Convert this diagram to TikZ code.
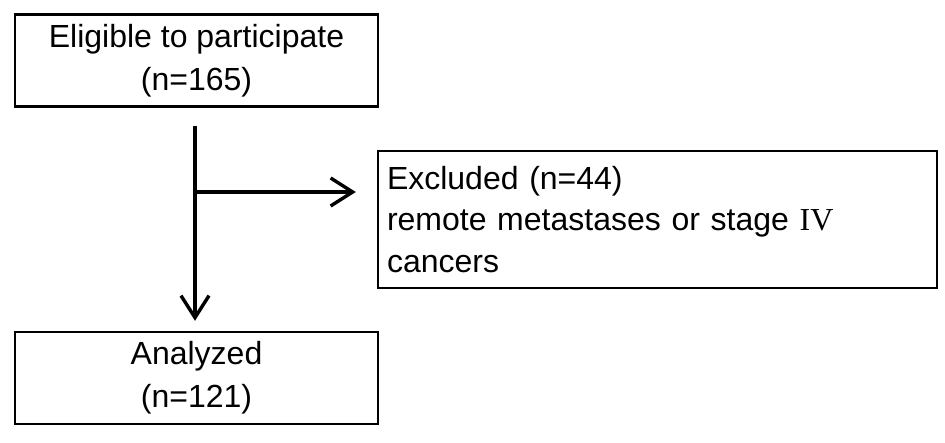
\documentclass[tikz,border=0pt]{standalone}
\usepackage{fontspec}
\setmainfont{Liberation Sans}
\newfontfamily\numfont{Liberation Serif}
\usetikzlibrary{arrows.meta}

\begin{document}
\begin{tikzpicture}[
    x=1pt, y=1pt,
    stagebox/.style={draw, line width=2.4pt, minimum width=363pt, minimum height=92pt,
      align=center, inner sep=0pt, font=\fontsize{32}{43}\selectfont},
    notebox/.style={draw, line width=2.4pt, minimum width=559pt, minimum height=137pt,
      text width=541pt, align=left, inner sep=9pt, font=\fontsize{32}{41.5}\selectfont},
    flow/.style={line width=3.4pt, -{Straight Barb[length=22pt,width=28pt,line width=3.4pt]}}
    ]
    \useasboundingbox (0,0) rectangle (945,443);
    \node[stagebox] (elig) at (196.5,382.5) {Eligible to participate\\(n=165)};
    \node[notebox] (excl) at (657.5,223.5) {Excluded (n=44)\\remote metastases or stage {\numfont IV}\\cancers};
    \node[stagebox] (anal) at (196.5,65) {Analyzed\\(n=121)};
    \coordinate (branch) at (195,251);
    \draw[flow, shorten <=18pt, shorten >=10pt] (elig.south -| branch) -- (anal.north -| branch);
    \draw[flow, shorten >=21pt] (branch) -- (branch -| excl.west);
  \end{tikzpicture}
\end{document}
